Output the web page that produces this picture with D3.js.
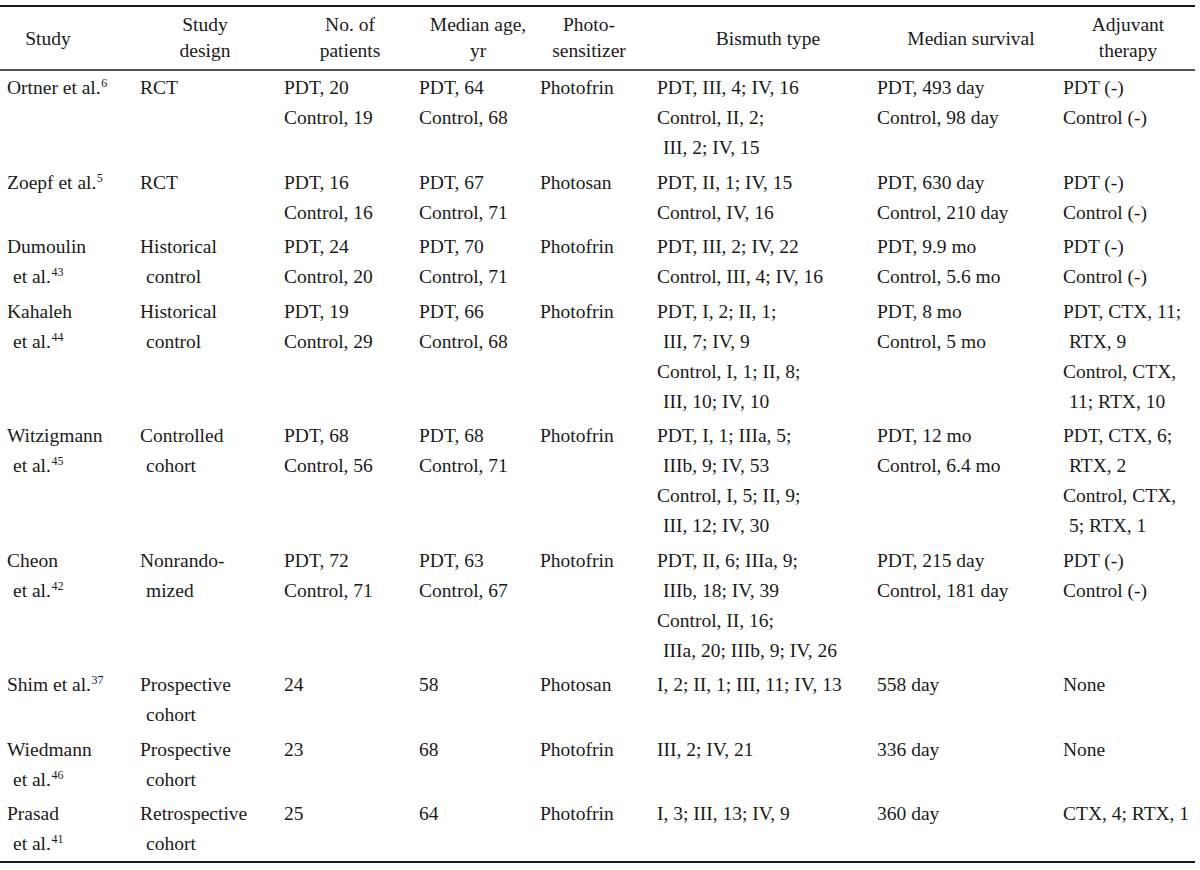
<!DOCTYPE html>
<html>
<head>
<meta charset="utf-8">
<script src="https://cdn.jsdelivr.net/npm/d3@7"></script>
<style>
  body { margin: 0; background: #fff; }
  svg text { font-family: "Liberation Serif", "Times New Roman", serif; fill: #1a1a1a; }
</style>
</head>
<body>
<svg id="table"></svg>
<script>
// column headers (one entry per line)
var headers = [
  ["Study"],
  ["Study", "design"],
  ["No. of", "patients"],
  ["Median age,", "yr"],
  ["Photo-", "sensitizer"],
  ["Bismuth type"],
  ["Median survival"],
  ["Adjuvant", "therapy"]
];

// each cell = list of entries, each entry = list of wrapped lines
var studies = [
  [["Ortner et al."]], [["Zoepf et al."]], [["Dumoulin", "et al."]], [["Kahaleh", "et al."]],
  [["Witzigmann", "et al."]], [["Cheon", "et al."]], [["Shim et al."]], [["Wiedmann", "et al."]],
  [["Prasad", "et al."]]
];
var refs = ["6", "5", "43", "44", "45", "42", "37", "46", "41"];

var designs = [
  [["RCT"]], [["RCT"]], [["Historical", "control"]], [["Historical", "control"]],
  [["Controlled", "cohort"]], [["Nonrando-", "mized"]], [["Prospective", "cohort"]],
  [["Prospective", "cohort"]], [["Retrospective", "cohort"]]
];

var patients = [
  [["PDT, 20"], ["Control, 19"]], [["PDT, 16"], ["Control, 16"]], [["PDT, 24"], ["Control, 20"]],
  [["PDT, 19"], ["Control, 29"]], [["PDT, 68"], ["Control, 56"]], [["PDT, 72"], ["Control, 71"]],
  [["24"]], [["23"]], [["25"]]
];

var ages = [
  [["PDT, 64"], ["Control, 68"]], [["PDT, 67"], ["Control, 71"]], [["PDT, 70"], ["Control, 71"]],
  [["PDT, 66"], ["Control, 68"]], [["PDT, 68"], ["Control, 71"]], [["PDT, 63"], ["Control, 67"]],
  [["58"]], [["68"]], [["64"]]
];

var sensitizers = [
  [["Photofrin"]], [["Photosan"]], [["Photofrin"]], [["Photofrin"]], [["Photofrin"]],
  [["Photofrin"]], [["Photosan"]], [["Photofrin"]], [["Photofrin"]]
];

var bismuth = [
  [["PDT, III, 4; IV, 16"], ["Control, II, 2;", "III, 2; IV, 15"]],
  [["PDT, II, 1; IV, 15"], ["Control, IV, 16"]],
  [["PDT, III, 2; IV, 22"], ["Control, III, 4; IV, 16"]],
  [["PDT, I, 2; II, 1;", "III, 7; IV, 9"], ["Control, I, 1; II, 8;", "III, 10; IV, 10"]],
  [["PDT, I, 1; IIIa, 5;", "IIIb, 9; IV, 53"], ["Control, I, 5; II, 9;", "III, 12; IV, 30"]],
  [["PDT, II, 6; IIIa, 9;", "IIIb, 18; IV, 39"], ["Control, II, 16;", "IIIa, 20; IIIb, 9; IV, 26"]],
  [["I, 2; II, 1; III, 11; IV, 13"]],
  [["III, 2; IV, 21"]],
  [["I, 3; III, 13; IV, 9"]]
];

var survival = [
  [["PDT, 493 day"], ["Control, 98 day"]], [["PDT, 630 day"], ["Control, 210 day"]],
  [["PDT, 9.9 mo"], ["Control, 5.6 mo"]], [["PDT, 8 mo"], ["Control, 5 mo"]],
  [["PDT, 12 mo"], ["Control, 6.4 mo"]], [["PDT, 215 day"], ["Control, 181 day"]],
  [["558 day"]], [["336 day"]], [["360 day"]]
];

var adjuvant = [
  [["PDT (-)"], ["Control (-)"]], [["PDT (-)"], ["Control (-)"]], [["PDT (-)"], ["Control (-)"]],
  [["PDT, CTX, 11;", "RTX, 9"], ["Control, CTX,", "11; RTX, 10"]],
  [["PDT, CTX, 6;", "RTX, 2"], ["Control, CTX,", "5; RTX, 1"]],
  [["PDT (-)"], ["Control (-)"]],
  [["None"]], [["None"]], [["CTX, 4; RTX, 1"]]
];

var columns = [studies, designs, patients, ages, sensitizers, bismuth, survival, adjuvant];

// layout
var width = 1200, height = 870;
var colX = [7, 140, 284, 419, 540, 657, 877, 1063];
var headX = [48, 205, 350, 478, 589, 768, 971, 1128];
var fontSize = 19.5, lineH = 30, rowGap = 4.5, indent = 6;
var firstBase = 94;

var svg = d3.select("#table")
  .attr("width", width)
  .attr("height", height);

// flatten a cell into lines with indent flag
function cellLines(cell) {
  var out = [];
  cell.forEach(function(entry) {
    entry.forEach(function(l, i) { out.push({ text: l, cont: i > 0 }); });
  });
  return out;
}

// line count of every row
var rowLines = studies.map(function(d, r) {
  return d3.max(columns, function(c) { return cellLines(c[r]).length; });
});
var rowStart = [];
var acc = 0;
rowLines.forEach(function(n, r) { rowStart.push(acc); acc += n; });

var y = d3.scaleLinear().domain([0, 1]).range([firstBase, firstBase + lineH]);
function lineY(r, i) { return y(rowStart[r] + i) + r * rowGap; }

// rules
var rules = [{ y: 6, w: 2 }, { y: 70, w: 1.5 }, { y: 862, w: 2 }];
svg.selectAll("line.rule")
  .data(rules)
  .enter()
  .append("line")
  .attr("class", "rule")
  .attr("x1", 0)
  .attr("x2", 1195)
  .attr("y1", d => d.y)
  .attr("y2", d => d.y)
  .attr("stroke", "#1a1a1a")
  .attr("stroke-width", d => d.w);

// header
var head = svg.append("g").attr("class", "header");
headers.forEach(function(h, c) {
  var base = h.length === 1 ? [45] : [31, 57];
  h.forEach(function(t, i) {
    head.append("text")
      .attr("x", headX[c])
      .attr("y", base[i])
      .attr("text-anchor", "middle")
      .style("font-size", fontSize + "px")
      .text(t);
  });
});

// body cells
var body = svg.append("g").attr("class", "body");
columns.forEach(function(col, c) {
  col.forEach(function(cell, r) {
    var lines = cellLines(cell);
    lines.forEach(function(l, i) {
      var t = body.append("text")
        .attr("x", colX[c] + (l.cont ? indent : 0))
        .attr("y", lineY(r, i))
        .style("font-size", fontSize + "px")
        .text(l.text);
      // reference superscript on last line of study name
      if (c === 0 && i === lines.length - 1) {
        t.append("tspan")
          .attr("dy", -7)
          .attr("dx", 0.5)
          .style("font-size", "12px")
          .text(refs[r]);
      }
    });
  });
});
</script>
</body>
</html>
